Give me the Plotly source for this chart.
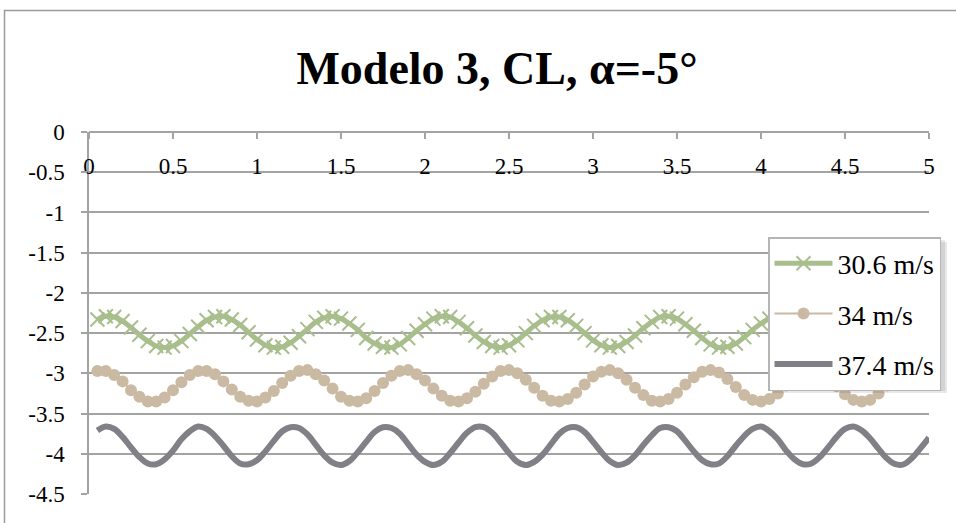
import plotly.graph_objects as go

title_text = "Modelo 3, CL, α=-5°"
series_names = ["30.6 m/s", "34 m/s", "37.4 m/s"]

x_vals = [0.05, 0.10, 0.15, 0.20, 0.25, 0.30, 0.35, 0.40, 0.45, 0.50,
          0.55, 0.60, 0.65, 0.70, 0.75, 0.80, 0.85, 0.90, 0.95, 1.00,
          1.05, 1.10, 1.15, 1.20, 1.25, 1.30, 1.35, 1.40, 1.45, 1.50,
          1.55, 1.60, 1.65, 1.70, 1.75, 1.80, 1.85, 1.90, 1.95, 2.00,
          2.05, 2.10, 2.15, 2.20, 2.25, 2.30, 2.35, 2.40, 2.45, 2.50,
          2.55, 2.60, 2.65, 2.70, 2.75, 2.80, 2.85, 2.90, 2.95, 3.00,
          3.05, 3.10, 3.15, 3.20, 3.25, 3.30, 3.35, 3.40, 3.45, 3.50,
          3.55, 3.60, 3.65, 3.70, 3.75, 3.80, 3.85, 3.90, 3.95, 4.00,
          4.05, 4.10, 4.15, 4.20, 4.25, 4.30, 4.35, 4.40, 4.45, 4.50,
          4.55, 4.60, 4.65, 4.70, 4.75, 4.80, 4.85, 4.90, 4.95, 5.00]

cl_30_6 = [-2.33, -2.29, -2.30, -2.35, -2.43, -2.52, -2.60, -2.66, -2.68, -2.66,
           -2.60, -2.51, -2.42, -2.34, -2.30, -2.29, -2.33, -2.40, -2.49, -2.58,
           -2.65, -2.68, -2.67, -2.62, -2.54, -2.45, -2.36, -2.31, -2.29, -2.32,
           -2.38, -2.46, -2.56, -2.63, -2.67, -2.68, -2.64, -2.56, -2.47, -2.39,
           -2.32, -2.29, -2.30, -2.36, -2.44, -2.53, -2.61, -2.66, -2.68, -2.65,
           -2.59, -2.50, -2.41, -2.34, -2.30, -2.30, -2.34, -2.41, -2.50, -2.59,
           -2.65, -2.68, -2.66, -2.61, -2.53, -2.44, -2.36, -2.30, -2.29, -2.32,
           -2.39, -2.47, -2.56, -2.64, -2.68, -2.67, -2.63, -2.55, -2.46, -2.38,
           -2.32, -2.29, -2.31, -2.36, -2.45, -2.54, -2.62, -2.67, -2.68, -2.65,
           -2.58, -2.49, -2.40, -2.33, -2.29, -2.30, -2.34, -2.42, -2.51, -2.60]

cl_34 = [-2.97, -2.97, -3.02, -3.10, -3.21, -3.29, -3.35, -3.35, -3.30, -3.21,
         -3.11, -3.02, -2.97, -2.97, -3.01, -3.10, -3.20, -3.29, -3.34, -3.35,
         -3.30, -3.22, -3.12, -3.03, -2.97, -2.96, -3.01, -3.09, -3.19, -3.29,
         -3.34, -3.35, -3.31, -3.22, -3.12, -3.03, -2.97, -2.96, -3.01, -3.09,
         -3.19, -3.28, -3.34, -3.35, -3.31, -3.23, -3.13, -3.04, -2.97, -2.96,
         -3.00, -3.08, -3.18, -3.28, -3.34, -3.35, -3.32, -3.24, -3.14, -3.04,
         -2.98, -2.96, -3.00, -3.08, -3.18, -3.27, -3.34, -3.35, -3.32, -3.24,
         -3.14, -3.05, -2.98, -2.96, -2.99, -3.07, -3.17, -3.27, -3.33, -3.35,
         -3.32, -3.25, -3.15, -3.05, -2.98, -2.96, -2.99, -3.06, -3.16, -3.26,
         -3.33, -3.35, -3.33, -3.25, -3.15, -3.06, -2.99, -2.96, -2.99, -3.06]

cl_37_4 = [-3.71, -3.66, -3.69, -3.79, -3.92, -4.04, -4.12, -4.13, -4.07, -3.96,
           -3.82, -3.72, -3.66, -3.69, -3.78, -3.90, -4.03, -4.12, -4.13, -4.08,
           -3.97, -3.84, -3.72, -3.67, -3.68, -3.76, -3.89, -4.02, -4.11, -4.14,
           -4.09, -3.98, -3.85, -3.73, -3.67, -3.68, -3.75, -3.88, -4.01, -4.10,
           -4.14, -4.10, -3.99, -3.86, -3.74, -3.67, -3.67, -3.74, -3.86, -3.99,
           -4.10, -4.14, -4.10, -4.01, -3.88, -3.75, -3.68, -3.67, -3.73, -3.85,
           -3.98, -4.09, -4.14, -4.11, -4.02, -3.89, -3.77, -3.68, -3.67, -3.72,
           -3.84, -3.97, -4.08, -4.13, -4.12, -4.03, -3.90, -3.78, -3.69, -3.66,
           -3.72, -3.82, -3.96, -4.07, -4.13, -4.12, -4.04, -3.92, -3.79, -3.69,
           -3.66, -3.71, -3.81, -3.94, -4.06, -4.13, -4.13, -4.05, -3.93, -3.80]

x_ticks = [0, 0.5, 1, 1.5, 2, 2.5, 3, 3.5, 4, 4.5, 5]
x_tick_text = ["0", "0.5", "1", "1.5", "2", "2.5", "3", "3.5", "4", "4.5", "5"]
y_ticks = [0, -0.5, -1, -1.5, -2, -2.5, -3, -3.5, -4, -4.5]
y_tick_text = ["0", "-0.5", "-1", "-1.5", "-2", "-2.5", "-3", "-3.5", "-4", "-4.5"]

GREEN = "#a8be8c"
TAN = "#cbbaa3"
GRAY = "#818086"
GRID = "#a3a3a3"
SERIF = "Liberation Serif"

W, H = 956, 523
ML, MR, MT, MB = 89, 27, 132, 29
PW, PH = W - ML - MR, H - MT - MB

def px_x(p):
    return (p - ML) / PW

def px_y(p):
    return (H - MB - p) / PH

fig = go.Figure()
fig.add_trace(go.Scatter(
    x=x_vals, y=cl_30_6, name=series_names[0], mode="lines+markers",
    line=dict(color=GREEN, width=5, shape="spline"),
    marker=dict(symbol="x-thin", size=14, line=dict(color=GREEN, width=2)),
    legendgroup="a"))
fig.add_trace(go.Scatter(
    x=x_vals, y=cl_34, name=series_names[1], mode="lines+markers",
    line=dict(color=TAN, width=2, shape="spline"),
    marker=dict(symbol="circle", size=12, color=TAN),
    legendgroup="b"))
fig.add_trace(go.Scatter(
    x=x_vals, y=cl_37_4, name=series_names[2], mode="lines",
    line=dict(color=GRAY, width=6, shape="spline"),
    legendgroup="c"))

# chart-area border
fig.add_shape(type="rect", xref="paper", yref="paper",
              x0=px_x(4.5), x1=px_x(990), y0=px_y(10.5), y1=px_y(560),
              line=dict(color="#9a9a9a", width=1.5), fillcolor="rgba(0,0,0,0)",
              layer="below")
# legend shadow (soft)
fig.add_shape(type="rect", xref="paper", yref="paper",
              x0=px_x(773), x1=px_x(947), y0=px_y(242), y1=px_y(393),
              line=dict(width=0), fillcolor="rgba(0,0,0,0.09)", layer="above")
fig.add_shape(type="rect", xref="paper", yref="paper",
              x0=px_x(771), x1=px_x(945), y0=px_y(240), y1=px_y(391),
              line=dict(width=0), fillcolor="rgba(0,0,0,0.09)", layer="above")

fig.update_layout(
    width=W, height=H,
    margin=dict(l=ML, r=MR, t=MT, b=MB),
    paper_bgcolor="white", plot_bgcolor="white",
    title=dict(text="<b>" + title_text + "</b>", x=497 / W, xanchor="center",
               y=1 - 68 / H, yanchor="middle",
               font=dict(family=SERIF, size=46, color="black")),
    font=dict(family=SERIF, color="black"),
    xaxis=dict(range=[0, 5], tickvals=x_ticks, ticktext=x_tick_text,
               anchor="free", position=1, side="bottom",
               showline=True, linecolor=GRID, linewidth=1.5,
               ticks="outside", ticklen=6, tickcolor=GRID, tickwidth=1.5,
               showgrid=False, zeroline=False, ticklabelstandoff=8,
               tickfont=dict(family=SERIF, size=23, color="black")),
    yaxis=dict(range=[-4.5, 0], tickvals=y_ticks, ticktext=y_tick_text,
               showline=True, linecolor=GRID, linewidth=1.5,
               ticks="outside", ticklen=6, tickcolor=GRID, tickwidth=1.5,
               showgrid=True, gridcolor=GRID, gridwidth=1.5, zeroline=False,
               ticklabelstandoff=12,
               tickfont=dict(family=SERIF, size=23, color="black")),
    legend=dict(x=px_x(768), y=px_y(237), xanchor="left", yanchor="top",
                bgcolor="white", bordercolor="#b5b5b5", borderwidth=1.5,
                font=dict(family=SERIF, size=28, color="black"),
                traceorder="grouped", tracegroupgap=11, itemwidth=58),
    showlegend=True,
)

fig.write_html("out.html", post_script="document.body.style.margin='0px';",
               config={"displayModeBar": False})
